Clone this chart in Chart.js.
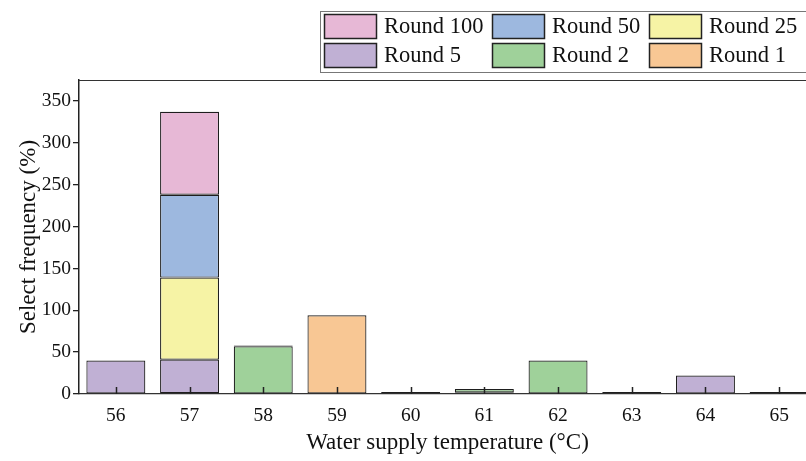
<!DOCTYPE html>
<html><head><meta charset="utf-8">
<script src="https://cdn.jsdelivr.net/npm/chart.js@4.4.0/dist/chart.umd.min.js"></script>
<style>html,body{margin:0;padding:0;overflow:hidden;background:#fff;width:806px;height:461px}</style>
</head><body>
<canvas id="c" width="816" height="461" style="display:block"></canvas>
<script>
const categories = ['56','57','58','59','60','61','62','63','64','65'];
const round1   = [0, 0,   0,  94, 2.5, 2, 0,  2.5, 0,  2.5];
const round2   = [0, 1,   57, 0,  0,   4, 40, 0,   0,  0];
const round5   = [40, 40, 1,  0,  0,   0, 0,  0,   22, 0];
const round25  = [0, 98,  0,  0,  0,   0, 0,  0,   0,  0];
const round50  = [0, 99,  0,  0,  0,   0, 0,  0,   0,  0];
const round100 = [0, 99,  0,  0,  0,   0, 0,  0,   0,  0];
const yTicks = [0, 50, 100, 150, 200, 250, 300, 350];

const FONT = '"Liberation Serif", "Times New Roman", serif';
const series = [
  {label:'Round 1', data:round1, color:'#F8C794'},
  {label:'Round 2', data:round2, color:'#9FD19A'},
  {label:'Round 5', data:round5, color:'#C0B0D4'},
  {label:'Round 25', data:round25, color:'#F6F3A5'},
  {label:'Round 50', data:round50, color:'#9DB8DF'},
  {label:'Round 100', data:round100, color:'#E7B8D6'}
];
const legendOrder = ['Round 100','Round 50','Round 25','Round 5','Round 2','Round 1'];

const framePlugin = {
  id:'frame',
  afterDatasetsDraw(chart){
    const ctx = chart.ctx, a = chart.chartArea, xs = chart.scales.x;
    ctx.save();
    ctx.strokeStyle = '#222'; ctx.lineWidth = 1.5;
    xs.ticks.forEach((t,i)=>{
      const px = Math.round(xs.getPixelForTick(i)) + 0.5;
      ctx.beginPath(); ctx.moveTo(px, a.bottom); ctx.lineTo(px, a.bottom - 7); ctx.stroke();
    });
    ctx.strokeStyle = '#333'; ctx.lineWidth = 1.2;
    ctx.beginPath(); ctx.moveTo(a.left, a.top + 0.5); ctx.lineTo(a.right, a.top + 0.5); ctx.stroke();
    ctx.restore();
  },
  afterDraw(chart){
    const ctx = chart.ctx;
    ctx.save();
    ctx.strokeStyle = '#777'; ctx.lineWidth = 1;
    ctx.strokeRect(320.5, 11.5, 500, 61);
    const colX = [324, 492, 649], rowY = [14, 43];
    legendOrder.forEach((name, i)=>{
      const ds = chart.data.datasets.find(d=>d.label===name);
      const x = colX[i%3], y = rowY[Math.floor(i/3)];
      ctx.fillStyle = ds.backgroundColor;
      ctx.fillRect(x, y, 53, 25);
      ctx.strokeStyle = '#222'; ctx.lineWidth = 1.5;
      ctx.strokeRect(x + 0.5, y + 0.5, 52, 24);
      ctx.fillStyle = '#111';
      ctx.font = '22.5px ' + FONT;
      ctx.textBaseline = 'middle'; ctx.textAlign = 'left';
      ctx.fillText(name, x + 60, y + 13);
    });
    ctx.restore();
  }
};

new Chart(document.getElementById('c'), {
  type:'bar',
  data:{
    labels:categories,
    datasets: series.map(s=>({
      label:s.label, data:s.data, backgroundColor:s.color,
      borderColor:'#1e1e1e', borderWidth:1.2, borderSkipped:false,
      barPercentage:0.8, categoryPercentage:1
    }))
  },
  options:{
    responsive:false, animation:false,
    layout:{padding:{top:80, left:0, right:0, bottom:0}},
    plugins:{legend:{display:false}, tooltip:{enabled:false}},
    scales:{
      x:{
        stacked:true,
        grid:{display:false, drawTicks:false},
        border:{display:true, color:'#333', width:1.2},
        ticks:{font:{family:FONT, size:19.5}, color:'#111', padding:10},
        title:{display:true, text:'Water supply temperature (°C)', font:{family:FONT, size:23}, color:'#111', padding:{top:2, bottom:4}},
        afterFit(s){ s.height = 67; }
      },
      y:{
        stacked:true, min:0, max:375,
        afterBuildTicks(s){ s.ticks = yTicks.map(v=>({value:v})); },
        ticks:{font:{family:FONT, size:19.5}, color:'#111', padding:2},
        grid:{drawOnChartArea:false, drawTicks:true, tickLength:6, color:'#222', lineWidth:1.3},
        border:{display:true, color:'#222', width:1.5},
        title:{display:true, text:'Select frequency (%)', font:{family:FONT, size:23}, color:'#111', padding:{top:15, bottom:0}},
        afterFit(s){ s.width = 79; }
      }
    }
  },
  plugins:[framePlugin]
});
</script>
</body></html>
